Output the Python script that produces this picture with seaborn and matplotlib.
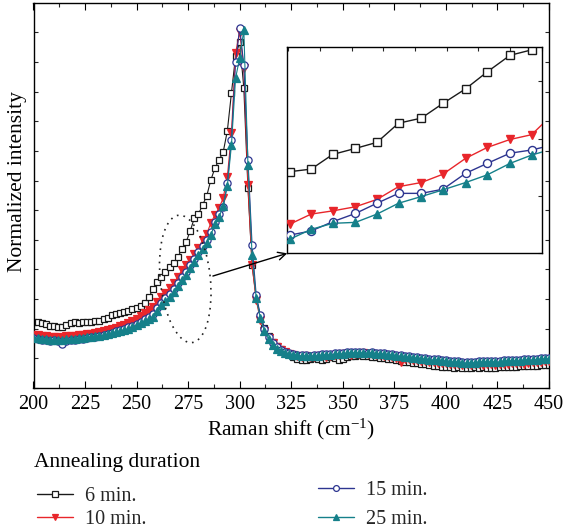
import numpy as np
import pandas as pd
import seaborn as sns
import matplotlib
matplotlib.use("Agg")
import matplotlib.pyplot as plt
import matplotlib.transforms as mtransforms
from matplotlib.patches import Ellipse
from matplotlib.lines import Line2D
from matplotlib.ticker import MultipleLocator

# Raman shift grid (cm^-1)
shift = np.arange(200, 451, 2)

# Raw Raman intensities (arbitrary units) for each annealing duration
counts_6min = [
    66, 66, 65, 64, 62, 62, 61, 61, 63, 65,
    66, 65, 66, 66, 66, 67, 67, 69, 70, 73,
    74, 75, 76, 77, 79, 80, 82, 85, 91, 99,
    106, 111, 116, 121, 125, 131, 139, 146, 157, 170,
    174, 183, 192, 208, 220, 228, 236, 257, 295, 332,
    346, 300, 200, 123, 90, 72, 60, 52, 46, 42,
    39, 36, 34, 31, 29, 28, 28, 29, 30, 29,
    28, 29, 31, 30, 28, 29, 31, 32, 32, 33,
    32, 32, 31, 31, 30, 30, 29, 29, 28, 27,
    26, 26, 25, 25, 24, 24, 23, 22, 22, 21,
    21, 21, 20, 21, 20, 20, 20, 21, 20, 21,
    20, 20, 20, 21, 21, 21, 21, 21, 22, 22,
    22, 22, 22, 23, 23, 23]
counts_10min = [
    53, 53, 52, 52, 51, 51, 51, 50, 52, 52,
    52, 53, 53, 54, 54, 55, 56, 57, 58, 59,
    60, 62, 63, 65, 67, 69, 72, 75, 78, 81,
    86, 91, 95, 100, 105, 111, 118, 123, 128, 134,
    140, 148, 154, 165, 173, 180, 190, 211, 255, 335,
    356, 320, 203, 123, 88, 68, 57, 50, 45, 41,
    38, 36, 34, 33, 32, 31, 32, 31, 31, 32,
    32, 31, 32, 33, 33, 34, 34, 33, 34, 34,
    35, 34, 34, 33, 33, 32, 32, 31, 30, 26,
    29, 29, 28, 28, 27, 27, 26, 26, 25, 25,
    25, 24, 24, 24, 23, 24, 23, 24, 24, 23,
    24, 24, 23, 24, 24, 24, 25, 25, 25, 24,
    25, 26, 26, 26, 27, 27]
counts_15min = [
    50, 49, 48, 48, 47, 48, 47, 44, 47, 48,
    48, 49, 49, 50, 51, 51, 52, 53, 54, 55,
    57, 58, 59, 61, 62, 64, 66, 69, 71, 74,
    80, 85, 90, 94, 99, 105, 111, 116, 123, 129,
    136, 142, 148, 156, 166, 174, 181, 205, 248, 326,
    360, 323, 228, 143, 93, 73, 59, 51, 45, 41,
    38, 36, 35, 34, 33, 33, 33, 32, 33, 33,
    34, 34, 34, 35, 35, 35, 36, 36, 36, 36,
    36, 35, 36, 35, 35, 35, 34, 34, 33, 33,
    32, 32, 31, 31, 30, 30, 29, 29, 29, 28,
    28, 27, 27, 27, 26, 26, 26, 26, 27, 27,
    27, 27, 27, 27, 28, 28, 28, 28, 28, 29,
    29, 29, 29, 30, 30, 30]
counts_25min = [
    50, 50, 49, 49, 48, 48, 48, 48, 49, 49,
    49, 50, 50, 51, 51, 52, 52, 53, 54, 55,
    56, 57, 58, 59, 61, 63, 65, 67, 69, 71,
    77, 83, 87, 91, 96, 102, 108, 113, 120, 126,
    133, 139, 145, 153, 164, 171, 182, 202, 243, 310,
    330, 358, 223, 133, 90, 70, 57, 49, 43, 39,
    37, 35, 34, 33, 33, 32, 32, 32, 32, 32,
    33, 33, 33, 34, 34, 34, 35, 35, 35, 35,
    35, 35, 35, 34, 34, 34, 33, 33, 32, 32,
    31, 31, 30, 30, 29, 29, 28, 28, 28, 27,
    27, 26, 26, 26, 25, 25, 25, 25, 26, 26,
    26, 26, 26, 26, 27, 27, 27, 27, 27, 28,
    28, 28, 28, 29, 29, 29]

# Enlarged view of the rising edge (inset), same intensity units
zoom_shift = [265.1, 266.8, 268.5, 270.3, 272.0, 273.7, 275.5, 277.2, 279.0, 280.7, 282.5, 284.2, 286.0]
zoom_6min = [97.6, 98.4, 103.0, 104.9, 106.8, 112.8, 114.4, 119.0, 123.6, 128.9, 134.1, 135.8, 143.1]
zoom_10min = [81.1, 84.3, 85.3, 86.6, 88.9, 92.9, 94.2, 96.8, 101.8, 105.2, 107.7, 109.2, 116.1]
zoom_15min = [77.7, 79.0, 81.9, 84.5, 87.7, 90.8, 90.8, 92.1, 97.1, 100.2, 103.4, 104.4, 106.1]
zoom_25min = [76.4, 79.5, 81.4, 81.7, 84.3, 87.7, 89.8, 91.9, 94.2, 96.6, 100.2, 102.8, 104.9]

durations = ["6 min.", "10 min.", "15 min.", "25 min."]
spectra = dict(zip(durations, [counts_6min, counts_10min, counts_15min, counts_25min]))
zooms = dict(zip(durations, [zoom_6min, zoom_10min, zoom_15min, zoom_25min]))

# normalise every spectrum to the strongest band of the series set
peak = max(max(v) for v in spectra.values())
df = pd.concat([pd.DataFrame({"shift": shift, "intensity": np.asarray(v) / peak, "duration": k})
                for k, v in spectra.items()], ignore_index=True)
dz = pd.concat([pd.DataFrame({"shift": zoom_shift, "intensity": np.asarray(v) / peak, "duration": k})
                for k, v in zooms.items()], ignore_index=True)

styles = {
    "6 min.": dict(color="#1a1a1a", marker="s", face="white", ms=5.0, ms_in=5.4),
    "10 min.": dict(color="#e8262b", marker="v", face="#e8262b", ms=6.0, ms_in=6.4),
    "15 min.": dict(color="#2d3590", marker="o", face="white", ms=5.2, ms_in=5.8),
    "25 min.": dict(color="#15808a", marker="^", face="#15808a", ms=6.0, ms_in=6.4),
}

sns.set_theme(style="white")
plt.rcParams["font.family"] = ["Liberation Serif", "DejaVu Serif"]
plt.rcParams["mathtext.fontset"] = "custom"
plt.rcParams["mathtext.rm"] = "Liberation Serif"
plt.rcParams["mathtext.it"] = "Liberation Serif:italic"

W, H = 565, 529
fig = plt.figure(figsize=(W / 100, H / 100), dpi=100)
ax = fig.add_axes([33.5 / W, (H - 388) / H, 515.5 / W, 385 / H])

for i, (name, st) in enumerate(styles.items()):
    sns.lineplot(data=df[df["duration"] == name], x="shift", y="intensity", ax=ax,
                 color=st["color"], marker=st["marker"], markersize=st["ms"],
                 markerfacecolor=st["face"], markeredgecolor=st["color"],
                 markeredgewidth=0.9, linewidth=0.8, estimator=None, errorbar=None,
                 zorder=2 + i)

ax.set_xlim(200, 450)
ax.set_ylim(0, 385 / 360)
ax.xaxis.set_major_locator(MultipleLocator(25))
ax.xaxis.set_minor_locator(MultipleLocator(12.5))
ax.yaxis.set_major_locator(MultipleLocator(0.0823))
ax.tick_params(axis="x", which="major", direction="in", length=5, width=0.8,
               top=True, bottom=True, labelsize=14.5, pad=5, colors="black")
ax.tick_params(axis="x", which="minor", direction="in", length=3, width=0.8,
               top=True, bottom=True)
ax.tick_params(axis="y", which="both", direction="in", length=3, width=0.8,
               left=True, right=True, labelleft=False)
for sp in ax.spines.values():
    sp.set_color("black")
    sp.set_linewidth(1.0)
ax.set_xlabel(r"Raman shift (cm$^{-1}$)", fontsize=15.5, labelpad=2, color="black")
ax.set_ylabel("Normalized intensity", fontsize=15.5, color="black")
ax.yaxis.set_label_coords(-6.0 / 515.5, (388 - 182) / 385)

# dotted ellipse marking the region shown enlarged in the inset
ell_trans = fig.dpi_scale_trans + mtransforms.ScaledTranslation(273.6, 0.303, ax.transData)
ax.add_patch(Ellipse((0, 0), width=0.50, height=1.28, angle=6, transform=ell_trans,
                     fill=False, edgecolor="#222222", linewidth=1.2,
                     linestyle=(0, (1, 3)), zorder=8))

# inset
axin = fig.add_axes([287.3 / W, (H - 253.3) / H, 254.4 / W, 206.6 / H])
for i, (name, st) in enumerate(styles.items()):
    sns.lineplot(data=dz[dz["duration"] == name], x="shift", y="intensity", ax=axin,
                 color=st["color"], marker=st["marker"], markersize=st["ms_in"],
                 markerfacecolor=st["face"], markeredgecolor=st["color"],
                 markeredgewidth=1.0, linewidth=1.0, estimator=None, errorbar=None,
                 zorder=2 + i)
axin.set_xlim(264.92, 285.0)
axin.set_ylim(0.20, 0.38)
axin.xaxis.set_major_locator(MultipleLocator(2.5))
axin.yaxis.set_major_locator(MultipleLocator(0.05))
axin.tick_params(which="both", direction="in", length=3, width=0.8, top=True, right=True,
                 labelbottom=False, labelleft=False)
axin.set_xlabel("")
axin.set_ylabel("")
for sp in axin.spines.values():
    sp.set_color("black")
    sp.set_linewidth(1.0)

axin.annotate("", xy=(0, 0), xycoords="axes fraction",
              xytext=(287.0, 0.311), textcoords=ax.transData,
              arrowprops=dict(arrowstyle="->", lw=1.0, color="black",
                              shrinkA=0, shrinkB=0, mutation_scale=14),
              annotation_clip=False, zorder=10)

# legend: title on its own line, two staggered columns of entries
handles = [Line2D([0], [0], color=st["color"], marker=st["marker"], markersize=4.2,
                  markerfacecolor=st["face"], markeredgecolor=st["color"],
                  markeredgewidth=0.9, linewidth=1.0) for st in styles.values()]
fig.text(34 / W, 1 - 463 / H, "Annealing duration", fontsize=15.5, ha="left", va="center",
         color="black")
common = dict(loc="upper left", frameon=False, fontsize=14.5, handlelength=1.8,
              handletextpad=0.6, borderpad=0, borderaxespad=0,
              bbox_transform=fig.transFigure)
fig.legend(handles[:2], durations[:2], labelspacing=0.2,
           bbox_to_anchor=(37 / W, 1 - 487 / H), **common)
fig.legend(handles[2:], durations[2:], labelspacing=0.5,
           bbox_to_anchor=(318 / W, 1 - 481 / H), **common)

fig.savefig("out.png", dpi=100)
